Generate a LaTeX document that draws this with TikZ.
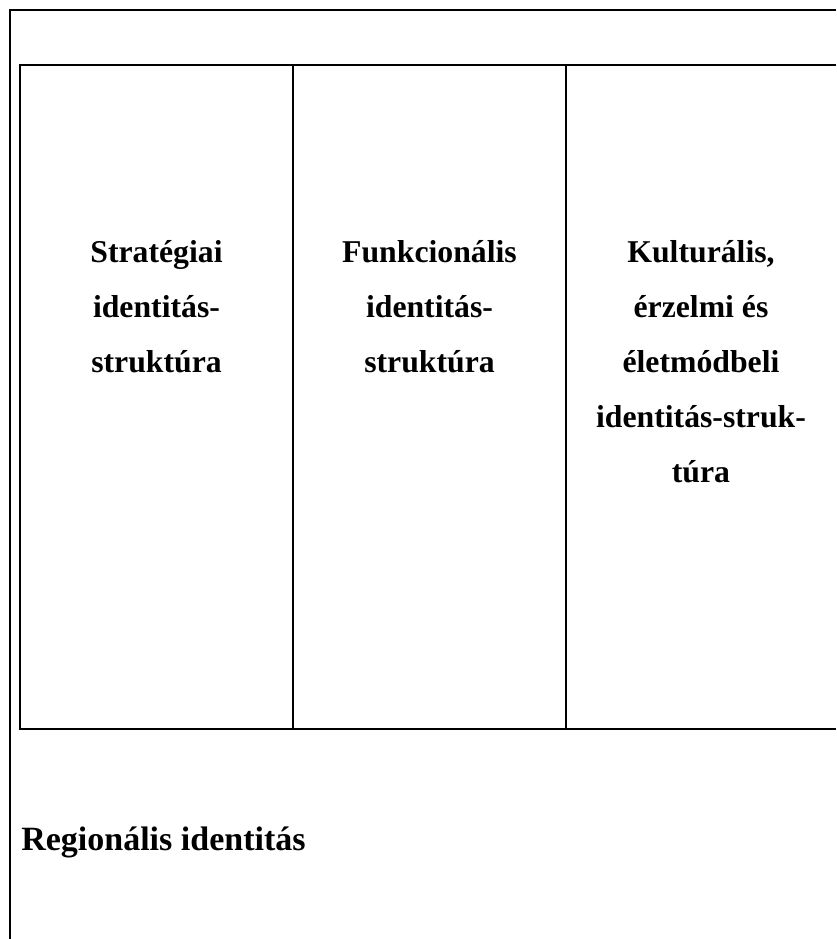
\documentclass[tikz,border=0pt]{standalone}
\usepackage{fontspec}
\setmainfont{Liberation Serif}
\usetikzlibrary{positioning}

\tikzset{
  frame/.style={line width=1.5pt},
  coltext/.style={align=center, anchor=base, font=\fontsize{23.8pt}{41.25pt}\selectfont\bfseries},
  titletext/.style={anchor=base west, inner sep=0pt, font=\fontsize{25.5pt}{30pt}\selectfont\bfseries}
}

\begin{document}
\begin{tikzpicture}[x=0.75pt,y=-0.75pt]
\useasboundingbox (0,0) rectangle (836,939);
% outer frame (left and top only)
\coordinate (outbl) at (10,939);
\coordinate (outtl) at (10,9.5);
\coordinate (outtr) at (836,9.5);
\draw[frame] (outbl) -- (outtl) -- (outtr);
% inner table
\coordinate (tabtl) at (20,65);
\coordinate (tabtr) at (836,65);
\coordinate (tabbl) at (20,729);
\coordinate (tabbr) at (836,729);
\draw[frame] (tabtr) -- (tabtl) -- (tabbl) -- (tabbr);
\draw[frame] (293,65) coordinate (sepa) -- (293,729) coordinate (sepb);
\draw[frame] (566,65) coordinate (sepc) -- (566,729) coordinate (sepd);
% column labels (base = last line)
\node[coltext] (strat) at (156.5,372) {Stratégiai\\identitás-\\struktúra};
\node[coltext] (funk) at (429.5,372) {Funkcionális\\identitás-\\struktúra};
\node[coltext] (kult) at (701,482) {Kulturális,\\érzelmi és\\életmódbeli\\identitás-struk-\\túra};
% title
\node[titletext] (regid) at (21,850) {Regionális identitás};
\end{tikzpicture}
\end{document}
